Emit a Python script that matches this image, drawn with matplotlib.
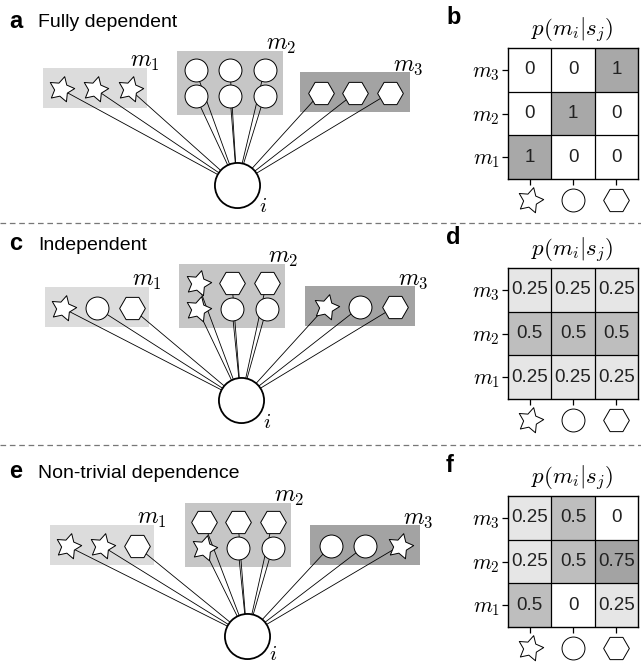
import numpy as np
import matplotlib
matplotlib.use('Agg')
import matplotlib.pyplot as plt
from matplotlib.path import Path
from matplotlib.patches import Rectangle
from matplotlib.colors import ListedColormap, BoundaryNorm

plt.rcParams['mathtext.fontset'] = 'cm'
plt.rcParams['font.family'] = ['Liberation Sans', 'DejaVu Sans']

# ---- data ----
letters = ['a', 'c', 'e']
titles = ['Fully dependent', 'Independent', 'Non-trivial dependence']
map_letters = ['b', 'd', 'f']
module_labels = [r'$m_1$', r'$m_2$', r'$m_3$']
symbols = ['star', 'circle', 'hex']   # columns s_j

# shapes in modules m1, m2, m3 (m2 has two rows, top row first)
modules_a = [['star', 'star', 'star'],
             ['circle', 'circle', 'circle', 'circle', 'circle', 'circle'],
             ['hex', 'hex', 'hex']]
modules_c = [['star', 'circle', 'hex'],
             ['star', 'hex', 'hex', 'star', 'circle', 'circle'],
             ['star', 'circle', 'hex']]
modules_e = [['star', 'star', 'hex'],
             ['hex', 'hex', 'hex', 'star', 'circle', 'circle'],
             ['circle', 'circle', 'star']]

# p(m_i|s_j): rows m1..m3, columns star, circle, hexagon
p_b = [[1, 0, 0], [0, 1, 0], [0, 0, 1]]
p_d = [[0.25, 0.25, 0.25], [0.5, 0.5, 0.5], [0.25, 0.25, 0.25]]
p_f = [[0.5, 0, 0.25], [0.25, 0.5, 0.75], [0.25, 0.5, 0]]

# ---- layout (pixels) ----
boxes = [[(43, 68), (177, 51), (300, 72)],
         [(45, 287), (179, 264), (305, 286)],
         [(50, 525), (185, 503), (310, 525)]]
hubs = [(237, 185), (241, 400), (247, 636)]
title_y = [27, 250, 478]
letter_y = [21, 243, 472]
map_top = [48, 268, 496]
box_w = [104, 106, 110]
box_colors = ['#dcdcdc', '#c6c6c6', '#a3a3a3']

ang = np.deg2rad(90 - 14 + np.arange(10) * 36)
rad = np.where(np.arange(10) % 2 == 0, 1.0, 0.52)
sv = np.column_stack([rad * np.cos(ang), rad * np.sin(ang)])
star = Path(np.vstack([sv, sv[:1]]), closed=True)
markers = {'star': (star, 19), 'circle': ('o', 16.5), 'hex': ('H', 18.5)}

fig = plt.figure(figsize=(6.41, 6.65), dpi=100)
ov = fig.add_axes([0, 0, 1, 1])
ov.set_xlim(0, 641)
ov.set_ylim(665, 0)
ov.axis('off')

# separators
for y in [223, 445]:
    ov.plot([0, 641], [y, y], color='#777777', lw=0.9, dashes=(4.5, 3))

for p, mods in enumerate([modules_a, modules_c, modules_e]):
    hx, hy = hubs[p]
    ov.text(9, letter_y[p], letters[p], fontsize=17, fontweight='bold', va='center', ha='left')
    ov.text(38, title_y[p], titles[p], fontsize=14, va='baseline', ha='left')
    for k, shapes in enumerate(mods):
        bx, by = boxes[p][k]
        w = box_w[k]
        two = len(shapes) > 3
        h = 64 if two else 40
        ov.add_patch(Rectangle((bx, by), w, h, fc=box_colors[k], ec='none', zorder=1))
        for n, s in enumerate(shapes):
            row, col = divmod(n, 3)
            x = bx + w / 2 + (col - 1) * 34.5
            y = by + (19 + 26 * row if two else 21)
            ov.plot([x, hx], [y, hy], color='k', lw=0.6, zorder=2)
            m, ms = markers[s]
            ov.plot(x, y, marker=m, ms=ms, mfc='white', mec='k', mew=0.7, zorder=3)
        ov.text(bx + w + 13, by + 5, module_labels[k], fontsize=17, ha='right', va='bottom')
    ov.plot(hx, hy, 'o', ms=32.5, mfc='white', mec='k', mew=1.3, zorder=4)
    ov.text(hx + 26, min(hy + 22, 654), '$i$', fontsize=15, ha='center', va='center')

# heatmaps
cmap = ListedColormap(['#ffffff', '#e6e6e6', '#bebebe', '#a3a3a3', '#a8a8a8'])
norm = BoundaryNorm([-0.1, 0.1, 0.375, 0.625, 0.875, 1.1], cmap.N)
for p, P in enumerate([p_b, p_d, p_f]):
    P = np.array(P, dtype=float)
    top = map_top[p]
    ax = fig.add_axes([508 / 641, 1 - (top + 131) / 665, 130 / 641, 131 / 665])
    ax.imshow(P, cmap=cmap, norm=norm, origin='lower', aspect='auto')
    for v in [0.5, 1.5]:
        ax.axhline(v, color='k', lw=0.9)
        ax.axvline(v, color='k', lw=0.9)
    for i in range(3):
        for j in range(3):
            ax.text(j, i, f'{P[i, j]:g}', ha='center', va='center', fontsize=13.5, color='#222222')
    ax.set_xticks(range(3))
    ax.set_xticklabels([])
    ax.set_yticks(range(3))
    ax.set_yticklabels(module_labels, fontsize=15.5)
    ax.tick_params(length=4, width=0.9, pad=2)
    for sp in ax.spines.values():
        sp.set_linewidth(1.0)
    for j, s in enumerate(symbols):
        m, ms = markers[s]
        ax.plot(j, -0.98, marker=m, ms=ms, mfc='white', mec='k', mew=0.7, clip_on=False)
    ax.set_xlim(-0.5, 2.5)
    ax.set_ylim(-0.5, 2.5)
    ov.text(572, top - 18, r'$p(m_i|s_j)$', fontsize=16.5, ha='center', va='center')
    ov.text(446, top - 30, map_letters[p], fontsize=17, fontweight='bold', va='center', ha='left')

fig.savefig('out.png', dpi=100)
